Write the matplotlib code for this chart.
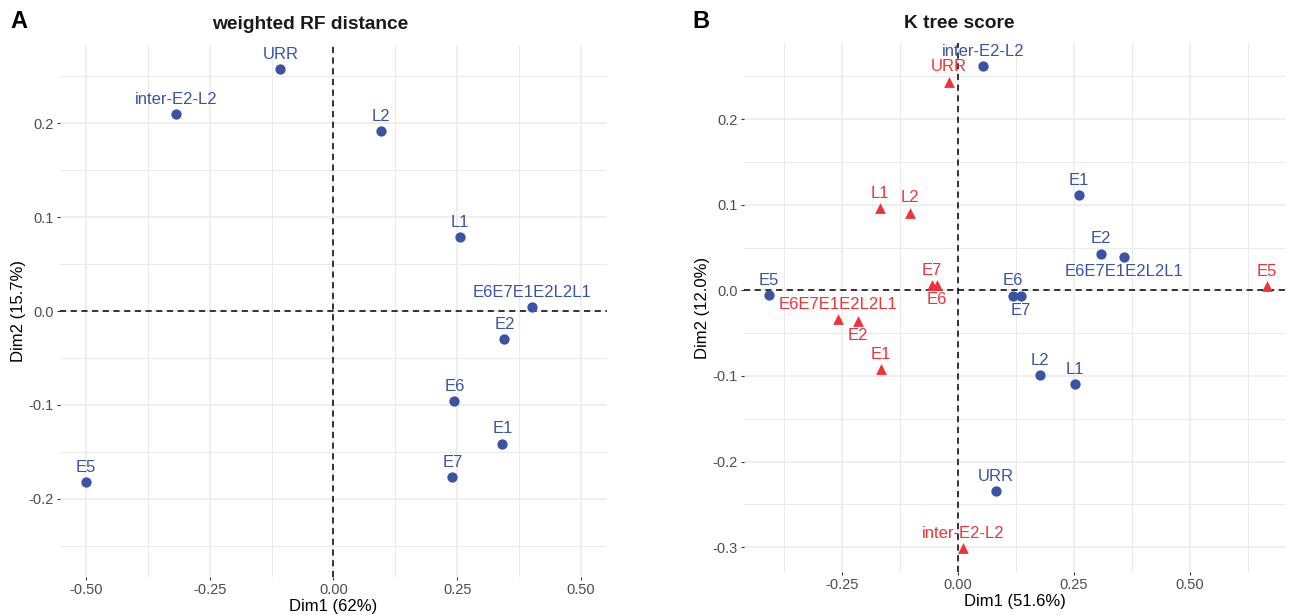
import matplotlib
matplotlib.use("Agg")
import matplotlib.pyplot as plt
from matplotlib.ticker import MultipleLocator, FixedLocator

plt.rcParams['font.family'] = ['Liberation Sans', 'DejaVu Sans']

# ---- Panel A: weighted RF distance ----
a_names = ["URR", "inter-E2-L2", "L2", "L1", "E6E7E1E2L2L1", "E2", "E6", "E1", "E7", "E5"]
a_dim1 = [-0.107, -0.317, 0.095, 0.256, 0.401, 0.345, 0.244, 0.341, 0.240, -0.500]
a_dim2 = [0.257, 0.210, 0.191, 0.079, 0.004, -0.030, -0.096, -0.141, -0.177, -0.182]
a_side = ["above"] * 10

# ---- Panel B: K tree score ----
b1_names = ["inter-E2-L2", "E1", "E2", "E6E7E1E2L2L1", "E6", "E7", "E5", "L2", "L1", "URR"]
b1_dim1 = [0.054, 0.261, 0.308, 0.358, 0.119, 0.136, -0.407, 0.177, 0.252, 0.082]
b1_dim2 = [0.262, 0.111, 0.043, 0.039, -0.006, -0.007, -0.005, -0.099, -0.109, -0.234]
b1_side = ["above", "above", "above", "below", "above", "below", "above", "above", "above", "above"]

b2_names = ["URR", "L1", "L2", "E7", "E6", "E5", "E6E7E1E2L2L1", "E2", "E1", "inter-E2-L2"]
b2_dim1 = [-0.019, -0.168, -0.103, -0.056, -0.045, 0.666, -0.259, -0.216, -0.166, 0.011]
b2_dim2 = [0.244, 0.096, 0.091, 0.006, 0.006, 0.005, -0.033, -0.036, -0.092, -0.301]
b2_side = ["above", "above", "above", "above", "below", "above", "above", "below", "above", "above"]

BLUE = "#3A53A4"
RED = "#EE3238"
GRID = "#EBEBEB"

fig = plt.figure(figsize=(12.9, 6.15), dpi=100)
axA = fig.add_axes([0.0465, 0.0618, 0.424, 0.865])
axB = fig.add_axes([0.5767, 0.070, 0.420, 0.860])


def style(ax, xmaj, ymaj, xlim, ylim):
    ax.set_xlim(*xlim)
    ax.set_ylim(*ylim)
    ax.xaxis.set_major_locator(FixedLocator(xmaj))
    ax.yaxis.set_major_locator(FixedLocator(ymaj))
    ax.xaxis.set_minor_locator(MultipleLocator(0.125))
    ax.yaxis.set_minor_locator(MultipleLocator(0.05))
    ax.grid(True, which='major', color=GRID, lw=1.1, zorder=0)
    ax.grid(True, which='minor', color=GRID, lw=0.8, zorder=0)
    ax.set_axisbelow(True)
    for s in ax.spines.values():
        s.set_visible(False)
    ax.tick_params(which='major', length=2.5, width=0.8, color='#333333',
                   labelsize=10.5, labelcolor='#4D4D4D', pad=2)
    ax.tick_params(which='minor', length=0)
    ax.axhline(0, color='black', lw=1.1, ls=(0, (4, 3)), zorder=1)
    ax.axvline(0, color='black', lw=1.1, ls=(0, (4, 3)), zorder=1)


def labels(ax, xs, ys, names, sides, color):
    for x, y, n, s in zip(xs, ys, names, sides):
        dy = 10.5 if s == "above" else -10.5
        ax.annotate(n, (x, y), xytext=(0, dy), textcoords='offset points',
                    ha='center', va='center', fontsize=12, color=color, zorder=4)


# Panel A
style(axA, [-0.5, -0.25, 0, 0.25, 0.5], [-0.2, -0.1, 0, 0.1, 0.2], (-0.552, 0.552), (-0.283, 0.283))
axA.set_xticklabels(["-0.50", "-0.25", "0.00", "0.25", "0.50"])
axA.set_yticklabels(["-0.2", "-0.1", "0.0", "0.1", "0.2"])
axA.scatter(a_dim1, a_dim2, s=55, color=BLUE, marker='o', zorder=3, linewidths=0)
labels(axA, a_dim1, a_dim2, a_names, a_side, BLUE)
axA.set_xlabel("Dim1 (62%)", fontsize=12, labelpad=1)
axA.set_ylabel("Dim2 (15.7%)", fontsize=12, labelpad=2)

# Panel B
style(axB, [-0.25, 0, 0.25, 0.5], [-0.3, -0.2, -0.1, 0, 0.1, 0.2], (-0.461, 0.707), (-0.329, 0.289))
axB.set_xticklabels(["-0.25", "0.00", "0.25", "0.50"])
axB.set_yticklabels(["-0.3", "-0.2", "-0.1", "0.0", "0.1", "0.2"])
axB.scatter(b1_dim1, b1_dim2, s=55, color=BLUE, marker='o', zorder=3, linewidths=0)
axB.scatter(b2_dim1, b2_dim2, s=60, color=RED, marker='^', zorder=3, linewidths=0)
labels(axB, b1_dim1, b1_dim2, b1_names, b1_side, BLUE)
labels(axB, b2_dim1, b2_dim2, b2_names, b2_side, RED)
axB.set_xlabel("Dim1 (51.6%)", fontsize=12, labelpad=1)
axB.set_ylabel("Dim2 (12.0%)", fontsize=12, labelpad=2)

fig.text(0.2403, 0.960, "weighted RF distance", fontsize=13.8, fontweight='bold',
         ha='center', va='center', color='#1A1A1A')
fig.text(0.7434, 0.962, "K tree score", fontsize=13.8, fontweight='bold',
         ha='center', va='center', color='#1A1A1A')

fig.text(0.008, 0.965, "A", fontsize=17, fontweight='bold', va='center', ha='left')
fig.text(0.537, 0.965, "B", fontsize=17, fontweight='bold', va='center', ha='left')

fig.savefig("out.png", dpi=100)
